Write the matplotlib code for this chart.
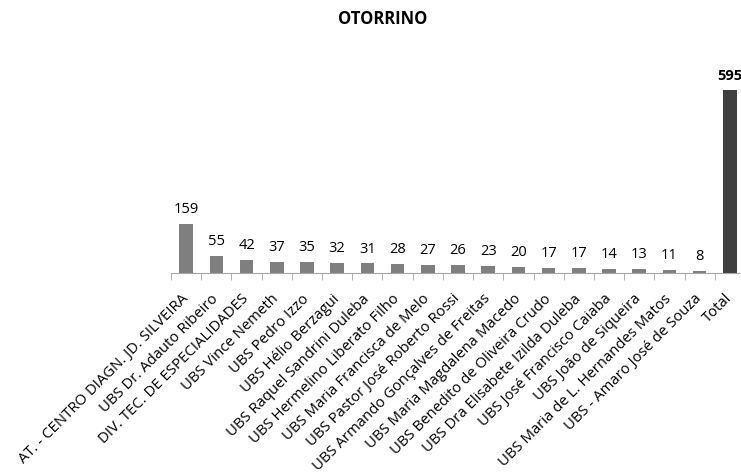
import numpy as np
import matplotlib.pyplot as plt

plt.rcParams['font.family'] = ['Open Sans', 'DejaVu Sans']

units = [
    "AT. - CENTRO DIAGN. JD. SILVEIRA",
    "UBS Dr. Adauto Ribeiro",
    "DIV. TEC. DE ESPECIALIDADES",
    "UBS Vince Nemeth",
    "UBS Pedro Izzo",
    "UBS Hélio Berzagui",
    "UBS Raquel Sandrini Duleba",
    "UBS Hermelino Liberato Filho",
    "UBS Maria Francisca de Melo",
    "UBS Pastor José Roberto Rossi",
    "UBS Armando Gonçalves de Freitas",
    "UBS Maria Magdalena Macedo",
    "UBS Benedito de Oliveira Crudo",
    "UBS Dra Elisabete Izilda Duleba",
    "UBS José Francisco Caiaba",
    "UBS João de Siqueira",
    "UBS Maria de L. Hernandes Matos",
    "UBS - Amaro José de Souza",
    "Total",
]
counts = [159, 55, 42, 37, 35, 32, 31, 28, 27, 26, 23, 20, 17, 17, 14, 13, 11, 8, 595]

fig = plt.figure(figsize=(7.41, 4.73), dpi=100)
ax = fig.add_axes([171 / 741, (473 - 273) / 473, (745 - 171) / 741, 200 / 473])

x = np.arange(len(units))
colors = ['#7f7f7f'] * (len(units) - 1) + ['#404040']
bars = ax.bar(x, counts, width=0.45, color=colors)

for i, (b, v) in enumerate(zip(bars, counts)):
    ax.annotate(str(v), (b.get_x() + b.get_width() / 2, v),
                xytext=(0, 5), textcoords='offset points',
                ha='center', va='bottom', fontsize=10.5,
                fontweight='bold' if units[i] == 'Total' else 'normal',
                annotation_clip=False)

ax.set_xlim(-0.5, len(units) - 0.5)
ax.set_ylim(0, 650)
ax.set_yticks([])
for s in ['top', 'right', 'left']:
    ax.spines[s].set_visible(False)
ax.spines['bottom'].set_color('#a6a6a6')

ax.set_xticks(x)
ax.set_xticklabels(units, rotation=45, ha='right', va='center',
                   rotation_mode='anchor', fontsize=10.75)
ax.tick_params(axis='x', which='major', length=0, pad=17)
ax.set_xticks(np.arange(-0.5, len(units)), minor=True)
ax.tick_params(axis='x', which='minor', length=5, color='#a6a6a6')

fig.text(383 / 741, 1 - 19 / 473, 'OTORRINO', ha='center', va='center',
         fontsize=12, fontweight='bold')

fig.savefig('out.png', dpi=100)
